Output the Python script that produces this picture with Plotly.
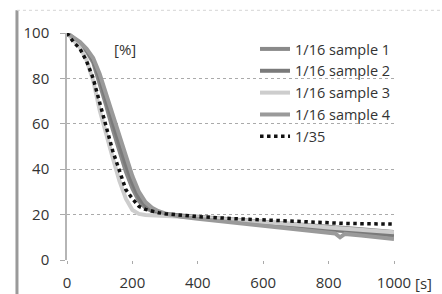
import plotly.graph_objects as go

time_s = [0, 20, 40, 60, 80, 100, 120, 140, 160, 180, 200, 220, 240, 260, 280, 300,
          350, 400, 500, 600, 700, 800, 820, 835, 850, 900, 1000]

sample1 = [100, 97.5, 95, 92, 87, 78, 68, 57.5, 48, 39, 31.5, 26, 23, 21.5, 20.8, 20.3,
           19.6, 19, 18, 17, 15.8, 14.6, 14.4, 14.3, 14.2, 13.6, 12.3]
sample2 = [100, 97.8, 95.5, 92.5, 88, 80, 70, 61, 51, 42, 34, 27.5, 24, 22, 21, 20.3,
           19.3, 18.6, 17.2, 16, 14.5, 13.2, 13, 12.9, 12.8, 12.2, 10.8]
sample3 = [100, 97, 93.5, 88, 79, 66, 55, 45, 35, 27, 22, 20.3, 19.8, 19.6, 19.5, 19.4,
           19.1, 18.8, 17.8, 16.8, 15.6, 14.3, 14.1, 14, 13.9, 13.3, 12.2]
sample4 = [100, 98, 96, 93, 89, 82, 73, 64, 54, 45, 37, 30, 25.5, 23, 21.5, 20.5,
           19, 18.2, 16.6, 15.2, 13.4, 12, 11.7, 10.0, 11.5, 10.8, 9.3]
ratio_35 = [100, 96, 93, 87.5, 80, 69, 58, 48, 39.5, 31, 27, 23.6, 22.3, 21.5, 20.8, 20.4,
            19.6, 19.1, 18.3, 17.6, 16.8, 16.3, 16.2, 16.2, 16.1, 16, 15.8]

series_names = ["1/16 sample 1", "1/16 sample 2", "1/16 sample 3", "1/16 sample 4", "1/35"]
x_ticks = [0, 200, 400, 600, 800, 1000]
y_ticks = [0, 20, 40, 60, 80, 100]

FONT = "Open Sans"
TXT = "#333333"

fig = go.Figure()
styles = [
    dict(color="#8a8a8a", width=4),
    dict(color="#7a7a7a", width=4),
    dict(color="#cdcdcd", width=4),
    dict(color="#9a9a9a", width=4),
]
for name, vals, st in zip(series_names[:4], [sample1, sample2, sample3, sample4], styles):
    fig.add_trace(go.Scatter(x=time_s, y=vals, mode="lines", name=name,
                             line=dict(color=st["color"], width=st["width"])))
fig.add_trace(go.Scatter(x=time_s, y=ratio_35, mode="lines", name=series_names[4],
                         line=dict(color="#111111", width=3.5, dash="dot")))

fig.update_layout(
    width=442, height=294,
    margin=dict(l=67, r=48, t=33, b=34),
    paper_bgcolor="white", plot_bgcolor="white",
    font=dict(family=FONT, size=15, color=TXT),
    showlegend=True,
    legend=dict(x=0.575, y=1.0, xanchor="left", yanchor="top",
                bgcolor="rgba(0,0,0,0)", font=dict(size=14.5, color=TXT),
                tracegroupgap=0),
    xaxis=dict(range=[0, 1000], tickvals=x_ticks, showgrid=False, zeroline=False,
               showline=False, ticks="outside", ticklen=3, tickcolor="#aaaaaa",
               tickfont=dict(size=15, color=TXT), ticklabelstandoff=6, fixedrange=True,
               automargin=False),
    yaxis=dict(range=[0, 100], tickvals=y_ticks, showgrid=True, gridcolor="#aaaaaa",
               griddash="dot", gridwidth=1, zeroline=False,
               showline=True, linecolor="#b5b5b5", linewidth=1.5,
               ticks="outside", ticklen=5, tickcolor="#aaaaaa",
               tickfont=dict(size=15, color=TXT), ticklabelstandoff=8, fixedrange=True,
               automargin=False),
    annotations=[
        dict(x=177, y=93, xref="x", yref="y", text="[%]", showarrow=False,
             font=dict(size=15, color=TXT)),
        dict(x=1.0, y=-0.1, xref="paper", yref="paper", text="[s]", showarrow=False,
             xanchor="left", yanchor="middle", xshift=19, font=dict(size=15, color=TXT)),
    ],
    shapes=[
        dict(type="line", xref="paper", yref="paper", x0=-0.153, x1=-0.153, y0=-0.2, y1=1.10,
             line=dict(color="#9a9a9a", width=3)),
        dict(type="line", xref="paper", yref="paper", x0=-0.153, x1=1.2, y0=1.10, y1=1.10,
             line=dict(color="#d5d5d5", width=1, dash="dot")),
    ],
)

fig.write_html("out.html", config={"displayModeBar": False},
               post_script="document.body.style.margin='0';document.body.style.overflow='hidden';")
